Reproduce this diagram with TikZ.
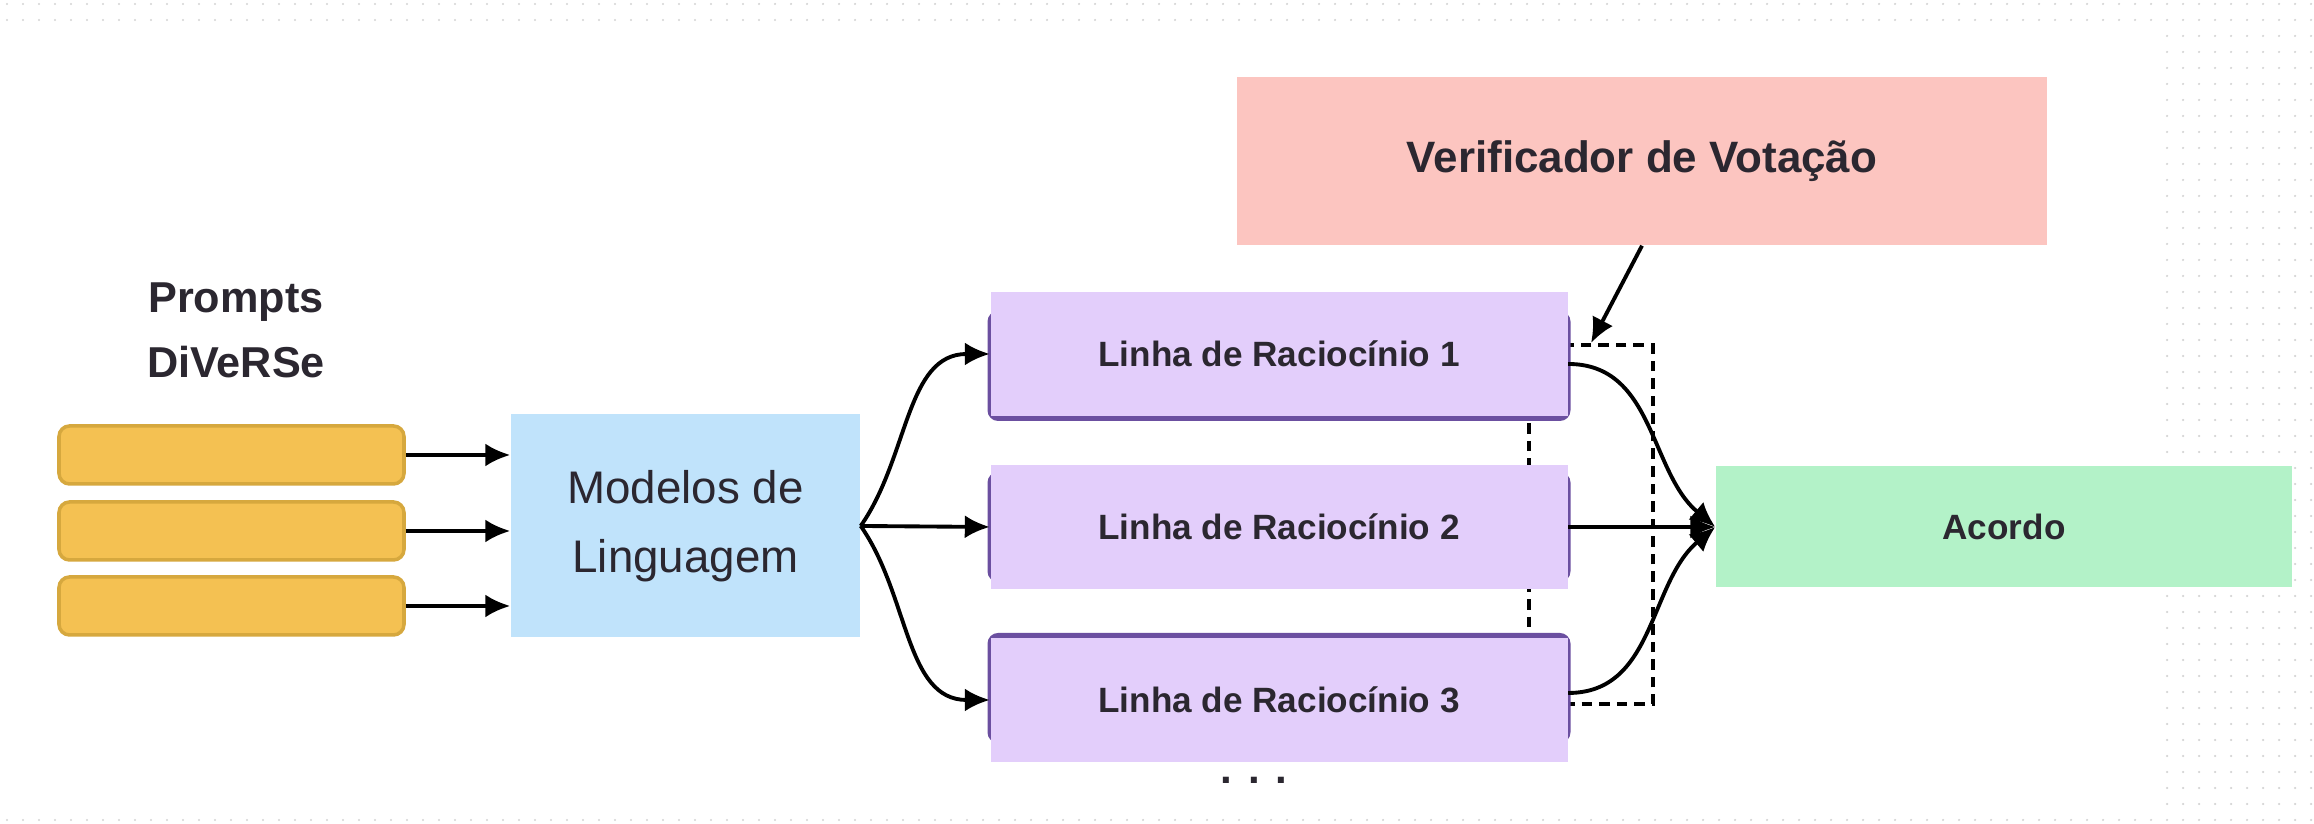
\documentclass[tikz,border=0pt]{standalone}
\usepackage{fontspec}
\setmainfont{Liberation Sans}
\usetikzlibrary{arrows.meta}
\definecolor{promptfill}{HTML}{F4C152}
\definecolor{promptline}{HTML}{D6A83E}
\definecolor{llmfill}{HTML}{C0E3FB}
\definecolor{reasonfill}{HTML}{E3CEFB}
\definecolor{reasonline}{HTML}{6B4FA0}
\definecolor{votefill}{HTML}{FCC5C0}
\definecolor{agreefill}{HTML}{B3F2C8}
\definecolor{textdark}{HTML}{2B2730}
\definecolor{dotgrey}{HTML}{D4D4D4}
\begin{document}
\begin{tikzpicture}
[promptdecorate/.style={shape=rectangle,rounded corners=3pt,fill=promptfill,draw=promptline,line width=1pt,minimum width=3.45cm,minimum height=0.58cm},%
  llmdecorate/.style={shape=rectangle,fill=llmfill,minimum width=3.49cm,minimum height=2.23cm,align=center,text=textdark,font=\fontsize{13}{19.7}\selectfont},%
  reasonedge/.style={shape=rectangle,rounded corners=3pt,fill=reasonline,minimum width=5.83cm,minimum height=1.1cm},%
  reasondecorate/.style={shape=rectangle,fill=reasonfill,minimum width=5.77cm,minimum height=1.24cm,text=textdark,font=\bfseries\fontsize{10}{12}\selectfont},%
  votedecorate/.style={shape=rectangle,fill=votefill,minimum width=8.10cm,minimum height=1.68cm,text=textdark,font=\bfseries\fontsize{12.5}{15}\selectfont},%
  agreedecorate/.style={shape=rectangle,fill=agreefill,minimum width=5.76cm,minimum height=1.21cm,text=textdark,font=\bfseries\fontsize{10}{12}\selectfont},%
  groupdecorate/.style={shape=rectangle,draw,dash pattern=on 3pt off 2pt,line width=1.1pt,minimum width=1.24cm,minimum height=3.59cm,inner sep=0pt},%
  linedecorate/.style={-{Latex[length=2.5mm,width=2.3mm]},line width=1.1pt}]
\useasboundingbox (0,0) rectangle (23.14,8.24);
%% canvas dots
\foreach \i in {0,...,144} {
  \fill[dotgrey] (0.07+0.16*\i,8.20) circle (0.012);
  \fill[dotgrey] (0.07+0.16*\i,8.04) circle (0.012);
  \fill[dotgrey] (0.07+0.16*\i,0.04) circle (0.012);
}
\foreach \i in {135,...,144} {
  \foreach \j in {2,...,50} {
    \fill[dotgrey] (0.07+0.16*\i,8.20-0.16*\j) circle (0.012);
  }
}
%% title of the inputs
\node (title) at (2.36,4.94) [align=center,text=textdark,font=\bfseries\fontsize{12.3}{18.5}\selectfont] {Prompts\\DiVeRSe};
%% prompts and model
\foreach \nodename/\y in {p1/3.69, p2/2.93, p3/2.18} {
  \node (\nodename) at (2.315,\y) [promptdecorate] {};
}
\node (llm) at (6.855,2.98) [llmdecorate] {Modelos de\\Linguagem};
%% voting group, behind the reasoning paths
\node (voto) at (15.91,2.995) [groupdecorate] {};
%% reasoning paths
\foreach \nodename/\sh/\y/\num in {r1/-0.12/4.70/1, r2/0/2.97/2, r3/0.12/1.24/3} {
  \node at (12.79,\y) [reasonedge,yshift=\sh cm] {};
  \node (\nodename) at (12.79,\y) [reasondecorate] {Linha de Raciocínio \num};
}
\node (dots) at (12.54,0.40) [anchor=base,text=textdark,font=\bfseries\fontsize{12}{14}\selectfont] {. . .};
%% verifier and agreement
\node (verif) at (16.42,6.63) [votedecorate] {Verificador de Votação};
\node (agree) at (20.04,2.97) [agreedecorate] {Acordo};
%% edges or lines
\path
\foreach \startnode in {p1, p2, p3} {
  (\startnode.east) edge[linedecorate] (\startnode.east -| llm.west)
};
\path
\foreach \endnode/\outang in {r1/55, r3/-55} {
  (llm.east) edge[linedecorate,out=\outang,in=180] (\endnode.west)
}
(llm.east) edge[linedecorate] (r2.west);
\path
\foreach \startnode/\sh/\inang in {r1/-0.1/140, r3/0.07/220} {
  ([yshift=\sh cm]\startnode.east) edge[linedecorate,out=0,in=\inang] (agree.west)
}
(r2.east) edge[linedecorate] (agree.west);
\path (verif.south) edge[linedecorate] (voto.north);
\end{tikzpicture}
\end{document}
